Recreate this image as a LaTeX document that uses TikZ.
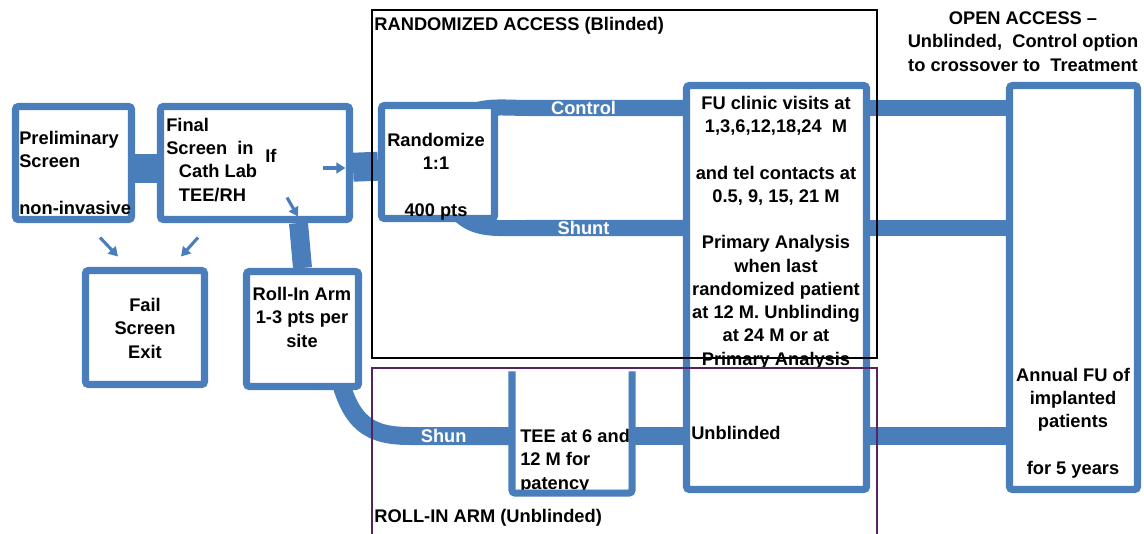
\documentclass[tikz,border=0pt]{standalone}
\usepackage{fontspec}
\setmainfont{Liberation Sans}
\usetikzlibrary{positioning,arrows.meta,calc,fit,backgrounds,shadows}
\definecolor{flowblue}{RGB}{74,126,187}
\definecolor{armpurple}{RGB}{84,36,96}

\begin{document}
\begin{tikzpicture}[x=0.025cm, y=-0.025cm,
  font=\fontsize{13}{16.5}\selectfont\bfseries,
  >={Triangle[length=6.5pt,width=7.5pt]},
  box/.style={draw=flowblue, line width=5pt, fill=white, rounded corners=2pt,
              inner sep=0pt, drop shadow={opacity=0.25, shadow xshift=1.2pt,
              shadow yshift=-1.2pt}},
  band/.style={draw=flowblue, line width=11.4pt},
  lowband/.style={draw=flowblue, line width=12.8pt},
  bandlab/.style={text=white, inner sep=0pt},
  txt/.style={inner sep=0pt, align=center},
  frame/.style={draw, line width=1.2pt, inner sep=0pt},
  arr/.style={->, draw=flowblue, line width=2.2pt}]
  \useasboundingbox (0,0) rectangle (1144,533);

  % boxes
  \node[box, fit={(15.5,106.5) (131.5,219.5)}] (prelim) {};
  \node[box, fit={(160.5,106.5) (349.5,219.5)}] (final) {};
  \node[box, fit={(85.5,270.5) (204.5,384.5)}] (fail) {};
  \node[box, fit={(246.5,271.5) (358.5,386.5)}] (rollin) {};
  \node[box, fit={(381.5,105.5) (494.5,218.5)}] (rand) {};
  \node[box, fit={(686.5,85.5) (866.5,489.5)}] (fu) {};
  \node[box, fit={(1009.5,85.5) (1137.5,489.5)}] (annual) {};
  \node[box, draw=none, fit={(515.5,375) (628.5,489.5)}] (tee) {};

  \coordinate (ctlbend) at (530,108);
  \coordinate (shtbend) at (530,228);
  \coordinate (rollbend) at (410,436);

  % bands behind the boxes
  \begin{scope}[on background layer]
    \draw[draw=flowblue, line width=20.6pt] ([yshift=-3.6pt]prelim.east)
      -- ([yshift=-3.6pt]final.west);
    \draw[draw=flowblue, line width=20.6pt] ([yshift=-3pt]final.east)
      -- ([yshift=-3pt]rand.west);
    \draw[draw=flowblue, line width=13.5pt]
      ($(final.south -| rollin.north)+(-4,0)$) -- (rollin.north);
    \draw[band] ([shift={(-40,16)}]rand.north east) .. controls +(25,-14)
      and +(-30,0) .. (ctlbend)
      -- node[bandlab, pos=.35] {Control} (fu.west |- ctlbend);
    \draw[band] ([shift={(-45,-14)}]rand.south east) .. controls +(20,23)
      and +(-40,0) .. (shtbend)
      -- node[bandlab, pos=.35] {Shunt} (fu.west |- shtbend);
    \draw[lowband] ([shift={(36,-16)}]rollin.south) .. controls +(12,50)
      and +(-40,0) .. (rollbend)
      -- node[bandlab, pos=.33] {Shun} (tee.west |- rollbend);
    \draw[lowband] (tee.east |- rollbend) -- (fu.west |- rollbend);
    \draw[band] (fu.east |- ctlbend) -- (annual.west |- ctlbend);
    \draw[band] (fu.east |- shtbend) -- (annual.west |- shtbend);
    \draw[lowband] (fu.east |- rollbend) -- (annual.west |- rollbend);
  \end{scope}

  % texts (base = last line)
  \node[txt, align=left, anchor=base west] (prelimtxt) at (19,214)
    {Preliminary\\Screen\\[16.5pt]non-invasive};
  \node[txt, align=left, anchor=base west] (finaltxt) at (166,201)
    {Final\\Screen\ \ in\\\hspace*{9pt}Cath Lab\\\hspace*{9pt}TEE/RH};
  \node[txt, anchor=base west] (iftxt) at (265,162) {If};
  \node[txt, anchor=base] (failtxt) at (145,358) {Fail\\Screen\\Exit};
  \node[txt, anchor=base] (rollintxt) at (302,347)
    {Roll-In Arm\\1-3 pts per\\site};
  \node[txt, anchor=base] (randtxt) at (436,216)
    {Randomize\\1:1\\[16.5pt]400 pts};
  \node[txt, anchor=base] (futxt) at (776,365)
    {FU clinic visits at\\1,3,6,12,18,24\ \ M\\[16.5pt]and tel contacts at\\
     0.5, 9, 15, 21 M\\[16.5pt]Primary Analysis\\when last\\
     randomized patient\\at 12 M. Unblinding\\at 24 M or at\\
     Primary Analysis};
  \node[txt, anchor=base west] (unbltxt) at (691,439) {Unblinded};
  \node[txt, align=left, anchor=base west] (teetxt) at (520,489)
    {TEE at 6 and\\12 M for\\patency};
  \node[txt, anchor=base] (annualtxt) at (1073,474)
    {Annual FU of\\implanted\\patients\\[16.5pt]for 5 years};
  \node[txt, anchor=base] (opentxt) at (1023,71)
    {OPEN ACCESS --\\Unblinded,\ \ Control option\\to crossover to\ \ Treatment};

  % open-topped box
  \draw[flowblue, line width=5pt, rounded corners=2pt]
    (tee.north west) -- (tee.south west) -- (tee.south east) -- (tee.north east);

  % small arrows
  \draw[arr] ([shift={(26.5,14.5)}]prelim.south) -- ([shift={(-27,-10.5)}]fail.north);
  \draw[arr] ([shift={(-57,14.5)}]final.south) -- ([shift={(36,-10.5)}]fail.north);
  \draw[arr] ([shift={(-30,5)}]final.east) -- ([shift={(-7.5,5)}]final.east);
  \draw[arr] ([shift={(32,-25.5)}]final.south) -- ([shift={(43,-6.5)}]final.south);

  % frames
  \node[frame, fit={(372,10) (877,358)}] (randfr) {};
  \node[frame, draw=armpurple, fit={(372,368) (877,560)}] (rollfr) {};
  \node[txt, anchor=base west] (randlab) at ([shift={(3,21)}]randfr.north west)
    {RANDOMIZED ACCESS (Blinded)};
  \node[txt, anchor=base west] (rolllab) at ([shift={(3,155)}]rollfr.north west)
    {ROLL-IN ARM (Unblinded)};
\end{tikzpicture}
\end{document}
